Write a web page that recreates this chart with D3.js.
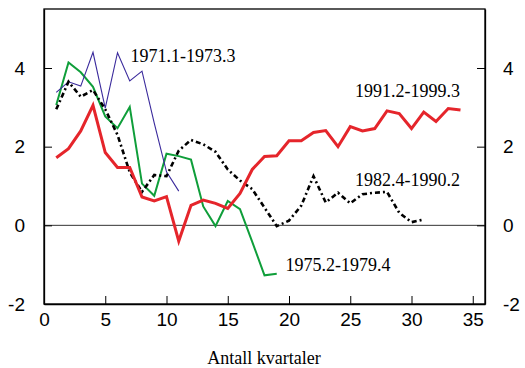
<!DOCTYPE html>
<html>
<head>
<meta charset="utf-8">
<script src="https://cdn.jsdelivr.net/npm/d3@7"></script>
<style>
  html, body { margin: 0; padding: 0; background: #fff; }
  svg { display: block; }
</style>
</head>
<body>
<svg id="chart" width="525" height="368"></svg>
<script>
// ---- Data ----
const xTicks = [0, 5, 10, 15, 20, 25, 30, 35];
const yTicks = [-2, 0, 2, 4];

const s1971 = [3.38, 3.65, 3.54, 4.40, 2.98, 4.39, 3.67, 3.92, 2.60, 1.36, 0.87];
const s1975 = [3.06, 4.14, 3.89, 3.52, 2.77, 2.47, 3.01, 1.06, 0.75, 1.82, 1.76, 1.67, 0.48, -0.02, 0.62, 0.41, -0.42, -1.27, -1.23];
const s1982 = [2.95, 3.65, 3.27, 3.44, 2.95, 2.30, 1.35, 0.85, 1.28, 1.25, 1.90, 2.17, 2.06, 1.87, 1.42, 1.14, 0.92, 0.45, -0.02, 0.12, 0.50, 1.25, 0.58, 0.83, 0.56, 0.79, 0.83, 0.85, 0.32, 0.08, 0.15];
const s1991 = [1.72, 1.95, 2.40, 3.05, 1.85, 1.47, 1.47, 0.72, 0.62, 0.73, -0.40, 0.51, 0.64, 0.56, 0.43, 0.81, 1.42, 1.75, 1.77, 2.15, 2.15, 2.36, 2.41, 2.00, 2.51, 2.40, 2.46, 2.91, 2.84, 2.46, 2.88, 2.64, 2.97, 2.93];

const seriesNames = ["1975.2-1979.4", "1971.1-1973.3", "1982.4-1990.2", "1991.2-1999.3"];
const xLabel = "Antall kvartaler";

// ---- Layout ----
const svg = d3.select("#chart");
const L = 44, R = 485, T = 9, B = 304;

const x = d3.scaleLinear().domain([0, 36]).range([L, R]);
const y = d3.scaleLinear().domain([-2, 5.5]).range([B, T]);

const tickFont = "'Liberation Sans', Arial, sans-serif";
const serif = "'Liberation Serif', 'Times New Roman', serif";
const fmt = d => String(d);

// frame
svg.append("rect").attr("x", L).attr("y", T).attr("width", R - L).attr("height", B - T)
  .attr("fill", "none").attr("stroke", "#000").attr("stroke-width", 1.3);

// zero line
svg.append("line").attr("x1", L).attr("x2", R).attr("y1", y(0)).attr("y2", y(0))
  .attr("stroke", "#333").attr("stroke-width", 1);

function styleAxis(g) {
  g.select(".domain").attr("stroke", "#000").attr("stroke-width", 1.3);
  g.selectAll(".tick line").attr("stroke", "#000").attr("stroke-width", 1);
  g.selectAll(".tick text").attr("font-family", tickFont).attr("font-size", 19).attr("fill", "#000");
}

svg.append("g").attr("transform", `translate(0,${B})`)
  .call(d3.axisBottom(x).tickValues(xTicks).tickSizeInner(-8).tickSizeOuter(0).tickPadding(8.5).tickFormat(fmt))
  .call(styleAxis);

svg.append("g").attr("transform", `translate(${L},0)`)
  .call(d3.axisLeft(y).tickValues(yTicks).tickSizeInner(-8).tickSizeOuter(0).tickPadding(19).tickFormat(fmt))
  .call(styleAxis);

svg.append("g").attr("transform", `translate(${R},0)`)
  .call(d3.axisRight(y).tickValues(yTicks).tickSizeInner(-8).tickSizeOuter(0).tickPadding(18).tickFormat(fmt))
  .call(styleAxis);

// lines
const line = d3.line().x((d, i) => x(i + 1)).y(d => y(d));

svg.append("path").datum(s1975).attr("d", line).attr("fill", "none")
  .attr("stroke", "#0f9e3a").attr("stroke-width", 2).attr("stroke-linejoin", "miter");
svg.append("path").datum(s1971).attr("d", line).attr("fill", "none")
  .attr("stroke", "#3a2a9c").attr("stroke-width", 1.1);
svg.append("path").datum(s1982).attr("d", line).attr("fill", "none")
  .attr("stroke", "#000").attr("stroke-width", 2.6).attr("stroke-dasharray", "5,3,2,3");
svg.append("path").datum(s1991).attr("d", line).attr("fill", "none")
  .attr("stroke", "#e5252b").attr("stroke-width", 3);

// series labels
const labels = [
  { text: seriesNames[1], x: 130.5, y: 61.5 },
  { text: seriesNames[3], x: 355, y: 96.5 },
  { text: seriesNames[2], x: 355, y: 185.5 },
  { text: seriesNames[0], x: 285.5, y: 270.5 }
];
svg.selectAll("text.series").data(labels).enter().append("text")
  .attr("class", "series")
  .attr("x", d => d.x).attr("y", d => d.y)
  .attr("font-family", serif).attr("font-size", 18).attr("fill", "#000")
  .text(d => d.text);

// axis title
svg.append("text").attr("x", (L + R) / 2 - 0.5).attr("y", 364)
  .attr("text-anchor", "middle").attr("font-family", serif).attr("font-size", 18)
  .attr("fill", "#000").text(xLabel);
</script>
</body>
</html>
